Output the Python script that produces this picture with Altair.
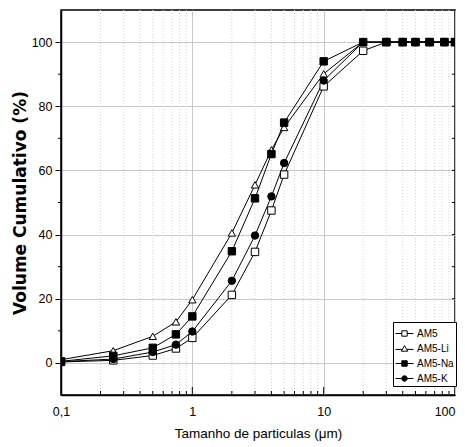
import altair as alt
import pandas as pd

# Particle size (um) and cumulative volume (%) for each sample
sizes = [0.1, 0.25, 0.5, 0.75, 1, 2, 3, 4, 5, 10, 20, 30, 40, 50, 64, 83, 100]
am5 = [0.3, 0.8, 2.3, 4.5, 7.8, 21.2, 34.6, 47.5, 58.7, 86.2, 97.3, 100, 100, 100, 100, 100, 100]
am5_li = [1.0, 3.8, 8.3, 12.8, 19.7, 40.5, 55.5, 66.4, 73.4, 90.1, 100, 100, 100, 100, 100, 100, 100]
am5_na = [0.5, 2.2, 4.7, 8.9, 14.5, 34.8, 51.3, 65.1, 74.9, 94.0, 100, 100, 100, 100, 100, 100, 100]
am5_k = [0.4, 1.2, 3.4, 5.7, 9.8, 25.6, 39.7, 51.9, 62.3, 88.0, 100, 100, 100, 100, 100, 100, 100]

series = ["AM5", "AM5-Li", "AM5-Na", "AM5-K"]
values = [am5, am5_li, am5_na, am5_k]

# Tick positions
x_major = [0.1, 1, 10, 100]
x_minor = [0.2, 0.3, 0.4, 0.5, 0.6, 0.7, 0.8, 0.9,
           2, 3, 4, 5, 6, 7, 8, 9,
           20, 30, 40, 50, 60, 70, 80, 90]
y_major = [0, 20, 40, 60, 80, 100]
y_minor = [10, 30, 50, 70, 90]

rows = []
for name, vals in zip(series, values):
    for s, v in zip(sizes, vals):
        rows.append({"size": s, "vol": v, "sample": name})
df = pd.DataFrame(rows)

W, H = 394, 385
FONT = "Liberation Sans"

x_scale = alt.Scale(type="log", domain=[0.1, 100], nice=False)
y_scale = alt.Scale(domain=[-10, 110], nice=False, zero=False)

x_axis = alt.Axis(
    values=x_major, grid=True, gridColor="#c8c8c8", gridWidth=1,
    ticks=False, labelPadding=10, labelFlush=False,
    labelExpr="replace(toString(datum.value), '.', ',')",
    labelAlign={"condition": {"test": "datum.value >= 100", "value": "right"}, "value": "center"},
    labelFont=FONT, labelFontSize=12.5, labelColor="black",
    domainColor="black", domainWidth=1.5,
    title="Tamanho de particulas (\u03bcm)", titleFont=FONT, titleFontSize=13.5,
    titleFontWeight="normal", titleColor="black", titlePadding=9,
)
y_axis = alt.Axis(
    values=y_major, grid=True, gridColor="#c8c8c8", gridWidth=1,
    tickSize=6, tickColor="black", tickWidth=1, labelPadding=3,
    labelFont=FONT, labelFontSize=12.5, labelColor="black",
    domainColor="black", domainWidth=1.5,
    title="Volume Cumulativo (%)", titleFont="DejaVu Sans", titleFontSize=17,
    titleFontWeight="bold", titleColor="black", titlePadding=2,
)


def X(f):
    return alt.X(f, scale=x_scale, axis=x_axis)


def Y(f):
    return alt.Y(f, scale=y_scale, axis=y_axis)


base = alt.Chart(df)

lines = base.mark_line(color="black", strokeWidth=1, clip=True).encode(
    x=X("size:Q"), y=Y("vol:Q"), detail="sample:N",
)

points = base.mark_point(filled=True, stroke="black", strokeWidth=1, size=55, opacity=1, clip=True).encode(
    x=X("size:Q"), y=Y("vol:Q"),
    shape=alt.Shape("sample:N", scale=alt.Scale(domain=series, range=["square", "triangle-up", "square", "circle"]),
                    legend=None),
    fill=alt.Fill("sample:N", scale=alt.Scale(domain=series, range=["white", "white", "black", "black"]),
                  legend=None),
)

# Dotted minor gridlines on the log axis
minor_grid = alt.Chart(pd.DataFrame({"v": x_minor})).mark_rule(
    color="#d4d4d4", strokeDash=[1, 2], strokeWidth=1
).encode(x=X("v:Q"))

# Inward ticks on the bottom frame, minor ticks on the left and right frame
x_tick_major = alt.Chart(pd.DataFrame({"v": [1, 10]})).mark_rule(color="black", strokeWidth=1).encode(
    x=X("v:Q"), y=alt.value(H), y2=alt.value(H - 8)
)
x_tick_minor = alt.Chart(pd.DataFrame({"v": x_minor})).mark_rule(color="black", strokeWidth=1).encode(
    x=X("v:Q"), y=alt.value(H), y2=alt.value(H - 4)
)
l_ticks = alt.Chart(pd.DataFrame({"v": y_minor})).mark_rule(color="black", strokeWidth=1).encode(
    y=Y("v:Q"), x=alt.value(0), x2=alt.value(-3)
)
r_ticks = alt.Chart(pd.DataFrame({"v": y_major + y_minor})).mark_rule(color="black", strokeWidth=1).encode(
    y=Y("v:Q"), x=alt.value(W), x2=alt.value(W - 3)
)

# Legend symbols: marker with a line through it
sym_paths = [
    "M-1,0H-0.3M0.3,0H1M-0.3,-0.3H0.3V0.3H-0.3Z",
    "M-1,0.1H-0.26M0.26,0.1H1M0,-0.32L0.36,0.3H-0.36Z",
    "M-1,0H1M-0.3,-0.3H0.3V0.3H-0.3Z",
    "M-1,0H1M0.3,0A0.3,0.3 0 1,1 -0.3,0A0.3,0.3 0 1,1 0.3,0Z",
]
legend = alt.Legend(
    title=None, orient="none", legendX=332, legendY=312,
    fillColor="white", strokeColor="black", padding=2,
    symbolSize=324, symbolStrokeWidth=1, symbolOpacity=1,
    labelFont=FONT, labelFontSize=10, labelColor="black",
    rowPadding=0, labelOffset=3, cornerRadius=0,
)
# The key draws no marks of its own; its entries come from the scale domain
key_layer = base.transform_filter("datum.size < 0").mark_point(
    filled=False, strokeWidth=1, size=324
).encode(
    x=X("size:Q"), y=Y("vol:Q"),
    shape=alt.Shape("sample:N", scale=alt.Scale(domain=series, range=sym_paths), sort=series, legend=legend),
    fill=alt.Fill("sample:N", scale=alt.Scale(domain=series, range=["white", "white", "black", "black"]),
                  sort=series, legend=legend),
    stroke=alt.Stroke("sample:N", scale=alt.Scale(domain=series, range=["black", "black", "black", "black"]),
                      sort=series, legend=legend),
)

chart = alt.layer(
    minor_grid, lines, points, x_tick_major, x_tick_minor, l_ticks, r_ticks, key_layer
).resolve_scale(
    shape="independent", fill="independent", stroke="independent"
).properties(
    width=W, height=H,
    autosize=alt.AutoSizeParams(type="none"),
    padding={"left": 61, "top": 10, "right": 10, "bottom": 52},
    background="white",
).configure_view(
    stroke="black", strokeWidth=1.5
)

chart.save("out.html", embed_options={"renderer": "svg", "actions": False})
